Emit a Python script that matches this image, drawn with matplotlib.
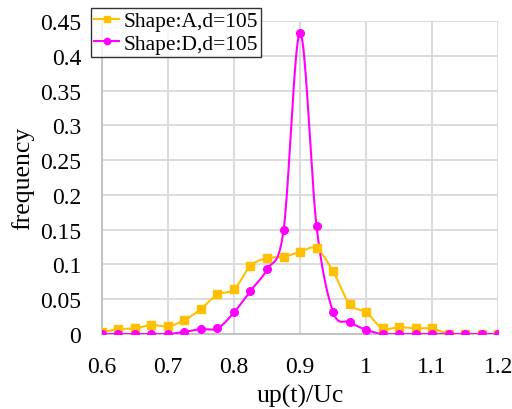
import numpy as np
import matplotlib.pyplot as plt
from matplotlib.ticker import FuncFormatter

plt.rcParams['font.family'] = ['Liberation Serif', 'DejaVu Serif']

# up(t)/Uc bins and frequencies for the two shapes
x = [0.6, 0.625, 0.65, 0.675, 0.7, 0.725, 0.75, 0.775, 0.8, 0.825, 0.85, 0.875, 0.9,
     0.925, 0.95, 0.975, 1.0, 1.025, 1.05, 1.075, 1.1, 1.125, 1.15, 1.175, 1.2]
shape_a = [0.003, 0.007, 0.008, 0.013, 0.011, 0.020, 0.036, 0.057, 0.064, 0.098, 0.109,
           0.111, 0.118, 0.123, 0.090, 0.043, 0.031, 0.008, 0.010, 0.008, 0.008, 0.0,
           0.0, 0.0, 0.0]
shape_d = [0.0, 0.0, 0.0, 0.0, 0.0, 0.003, 0.007, 0.008, 0.031, 0.062, 0.093, 0.149,
           0.433, 0.155, 0.032, 0.017, 0.006, 0.0, 0.0, 0.0, 0.0, 0.0, 0.0, 0.0, 0.0]
labels = ['Shape:A,d=105', 'Shape:D,d=105']
colors = ['#FFC000', '#FF00FF']
markers = ['s', 'o']


def smooth(xs, ys, n=20):
    # Catmull-Rom style bezier smoothing between consecutive points
    xs = np.asarray(xs, float)
    ys = np.asarray(ys, float)
    px = np.concatenate([[xs[0]], xs, [xs[-1]]])
    py = np.concatenate([[ys[0]], ys, [ys[-1]]])
    out_x, out_y = [], []
    t = np.linspace(0, 1, n, endpoint=False)
    for i in range(1, len(px) - 2):
        p0 = np.array([px[i], py[i]])
        p3 = np.array([px[i + 1], py[i + 1]])
        c1 = p0 + (p3 - np.array([px[i - 1], py[i - 1]])) / 6
        c2 = p3 - (np.array([px[i + 2], py[i + 2]]) - p0) / 6
        pts = ((1 - t) ** 3)[:, None] * p0 + (3 * (1 - t) ** 2 * t)[:, None] * c1 \
            + (3 * (1 - t) * t ** 2)[:, None] * c2 + (t ** 3)[:, None] * p3
        out_x.extend(pts[:, 0])
        out_y.extend(pts[:, 1])
    out_x.append(xs[-1])
    out_y.append(ys[-1])
    return out_x, out_y


fig = plt.figure(figsize=(5.12, 4.1), dpi=100)
ax = fig.add_axes([0.199, 0.183, 0.774, 0.763])

for ys, lab, col, mk in zip([shape_a, shape_d], labels, colors, markers):
    sx, sy = smooth(x, ys)
    ax.plot(sx, sy, color=col, lw=1.5, zorder=3)
    ax.plot(x, ys, linestyle='none', marker=mk, color=col,
            markersize=6 if mk == 's' else 5.5, zorder=4)
    ax.plot([], [], color=col, lw=1.5, marker=mk,
            markersize=5 if mk == 's' else 4.5, label=lab)

ax.set_xlim(0.6, 1.2)
ax.set_ylim(0, 0.45)
ax.set_xticks(np.arange(0.6, 1.21, 0.1))
ax.set_yticks(np.arange(0, 0.451, 0.05))
fmt = FuncFormatter(lambda v, p: ('%.2f' % v).rstrip('0').rstrip('.') if v else '0')
ax.xaxis.set_major_formatter(fmt)
ax.yaxis.set_major_formatter(fmt)
ax.tick_params(length=0, labelsize=17)
ax.tick_params(axis='y', pad=15)
ax.tick_params(axis='x', pad=16)
ax.grid(True, color='#d9d9d9', lw=1.3, zorder=0)
ax.set_axisbelow(True)
for s in ['top', 'right']:
    ax.spines[s].set_visible(False)
for s in ['left', 'bottom']:
    ax.spines[s].set_color('#bfbfbf')
    ax.spines[s].set_linewidth(1.3)

ax.set_xlabel('up(t)/Uc', fontsize=18.5, labelpad=5)
ax.set_ylabel('frequency', fontsize=18.5, labelpad=4)

leg = fig.legend(loc='upper left', bbox_to_anchor=(0.178, 0.978), fontsize=15.5,
                 frameon=True, fancybox=False, edgecolor='black', borderpad=0.15,
                 labelspacing=0.1, handlelength=1.15, handletextpad=0.2,
                 borderaxespad=0)
leg.get_frame().set_linewidth(1.0)

fig.savefig('out.png', dpi=100)
